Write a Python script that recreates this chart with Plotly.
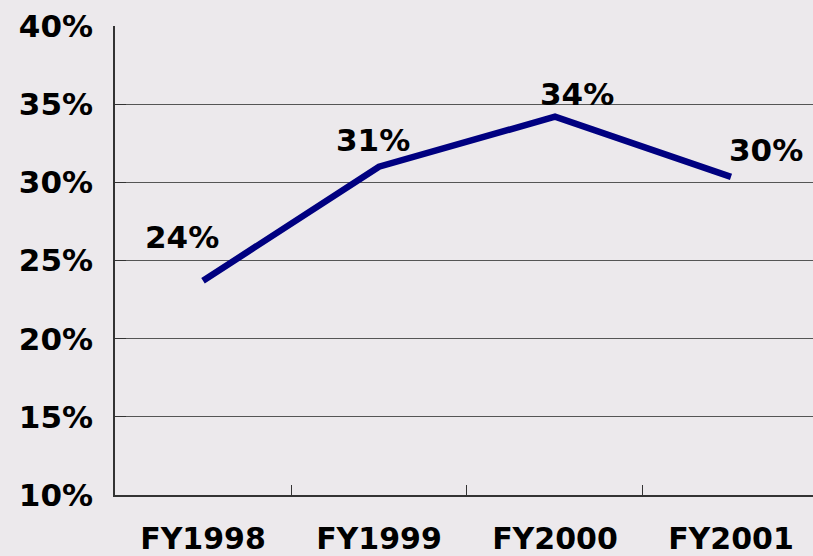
import plotly.graph_objects as go

categories = ["FY1998", "FY1999", "FY2000", "FY2001"]
values = [23.7, 31.0, 34.2, 30.35]
labels = ["24%", "31%", "34%", "30%"]
y_ticks = [10, 15, 20, 25, 30, 35, 40]
y_ticklabels = ["10%", "15%", "20%", "25%", "30%", "35%", "40%"]

label_xshift = [-21, -6, 22, 35]
label_yshift = [44, 27, 23, 27]

fig = go.Figure()
fig.add_trace(go.Scatter(
    x=categories, y=values, mode="lines",
    line=dict(color="#000080", width=6.5),
    hoverinfo="skip", showlegend=False,
))

for c, v, t, dx, dy in zip(categories, values, labels, label_xshift, label_yshift):
    fig.add_annotation(x=c, y=v, text=t, showarrow=False,
                       xshift=dx, yshift=dy,
                       font=dict(family="DejaVu Sans", size=31, color="#000000", weight="bold"),
                       xanchor="center", yanchor="middle")

fig.update_layout(
    width=813, height=556,
    margin=dict(l=115, r=0, t=26, b=61, autoexpand=False),
    paper_bgcolor="#ece9ec",
    plot_bgcolor="rgba(0,0,0,0)",
    font=dict(family="DejaVu Sans", color="#000000"),
    showlegend=False,
)

fig.update_xaxes(
    type="category", range=[-0.5, 3.466],
    automargin=False,
    showline=True, linecolor="#333333", linewidth=1.5,
    ticks="inside", ticklen=10, tickcolor="#333333", tickwidth=1,
    tickson="boundaries",
    showgrid=False, zeroline=False,
    tickfont=dict(family="DejaVu Sans", size=30, color="#000000", weight="bold"),
    ticklabelstandoff=16,
)
fig.update_yaxes(
    range=[10, 40], tickvals=y_ticks, ticktext=y_ticklabels,
    automargin=False,
    showline=True, linecolor="#333333", linewidth=1.5,
    ticks="inside", ticklen=11, tickcolor="#333333", tickwidth=1,
    showgrid=True, gridcolor="#555555", gridwidth=1,
    zeroline=False,
    tickfont=dict(family="DejaVu Sans", size=31, color="#000000", weight="bold"),
    ticklabelstandoff=14,
)

fig.write_html(
    "out.html",
    config={"displayModeBar": False},
    post_script="document.body.style.margin='0';document.body.style.background='#ece9ec';",
)
